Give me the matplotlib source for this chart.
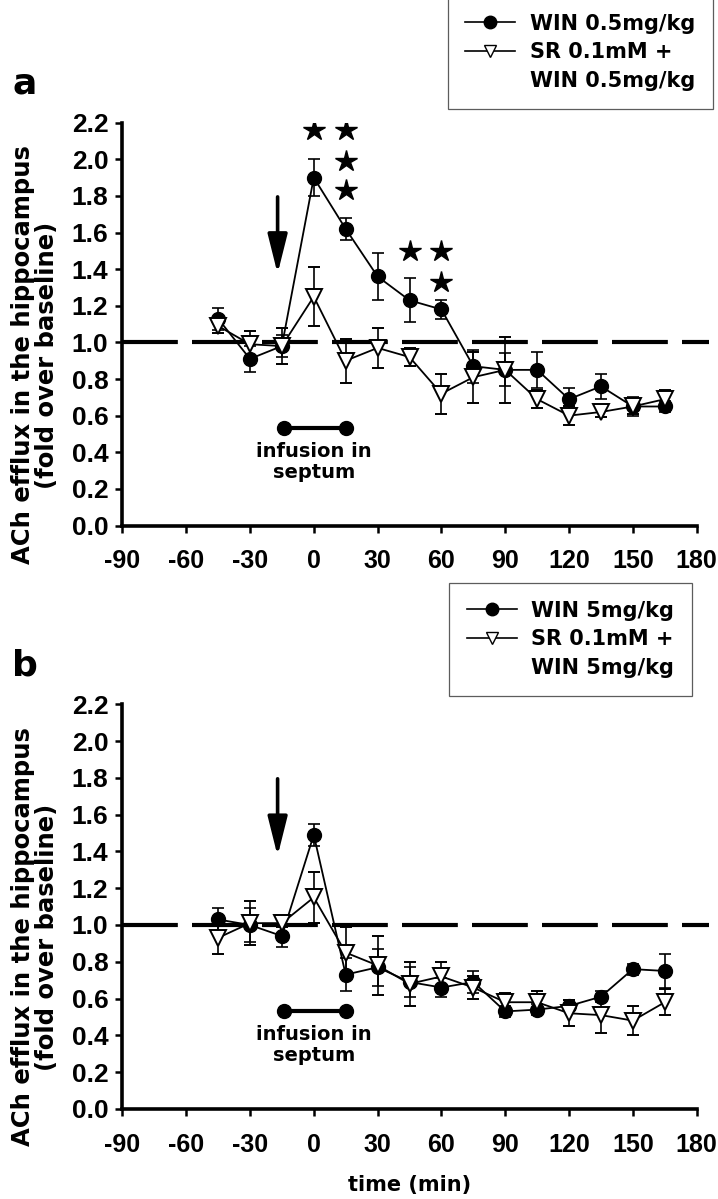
import matplotlib
matplotlib.use("Agg")
import matplotlib.pyplot as plt
from matplotlib.lines import Line2D

# sampling times (min)
time = [-45, -30, -15, 0, 15, 30, 45, 60, 75, 90, 105, 120, 135, 150, 165]

# panel a: WIN 0.5 mg/kg
a_win = [1.13, 0.91, 0.98, 1.90, 1.62, 1.36, 1.23, 1.18, 0.87, 0.85, 0.85, 0.69, 0.76, 0.65, 0.65]
a_win_err = [0.06, 0.07, 0.06, 0.10, 0.06, 0.13, 0.12, 0.05, 0.09, 0.09, 0.10, 0.06, 0.07, 0.05, 0.03]
a_sr = [1.09, 0.99, 0.98, 1.25, 0.90, 0.97, 0.92, 0.72, 0.81, 0.85, 0.69, 0.60, 0.62, 0.65, 0.69]
a_sr_err = [0.04, 0.07, 0.10, 0.16, 0.12, 0.11, 0.05, 0.11, 0.14, 0.18, 0.05, 0.05, 0.03, 0.04, 0.05]
a_star_x = [0, 15, 15, 15, 45, 60, 60]
a_star_y = [2.16, 2.16, 1.99, 1.83, 1.50, 1.50, 1.33]

# panel b: WIN 5 mg/kg
b_win = [1.03, 1.00, 0.94, 1.49, 0.73, 0.77, 0.69, 0.66, 0.69, 0.53, 0.54, 0.56, 0.61, 0.76, 0.75]
b_win_err = [0.06, 0.09, 0.06, 0.06, 0.09, 0.10, 0.08, 0.05, 0.06, 0.03, 0.03, 0.03, 0.03, 0.03, 0.09]
b_sr = [0.93, 1.01, 1.01, 1.15, 0.85, 0.78, 0.68, 0.72, 0.66, 0.58, 0.58, 0.52, 0.51, 0.48, 0.58]
b_sr_err = [0.09, 0.12, 0.02, 0.14, 0.14, 0.16, 0.12, 0.08, 0.06, 0.05, 0.06, 0.07, 0.10, 0.08, 0.07]

x_ticks = [-90, -60, -30, 0, 30, 60, 90, 120, 150, 180]
y_ticks = [0.0, 0.2, 0.4, 0.6, 0.8, 1.0, 1.2, 1.4, 1.6, 1.8, 2.0, 2.2]

infusion = [-14, 15]
arrow_x = -17

W, H = 718, 1199
fig = plt.figure(figsize=(W / 100, H / 100), dpi=100)

TXT = {"family": "DejaVu Sans", "weight": "bold"}
TICK = {"family": "Liberation Sans", "weight": "bold"}


def draw_panel(ax, win, win_err, sr, sr_err, stars_x, stars_y, labels, legend_box):
    ax.set_xlim(-90, 180)
    ax.set_ylim(0, 2.2)
    for s in ["top", "right"]:
        ax.spines[s].set_visible(False)
    for s in ["left", "bottom"]:
        ax.spines[s].set_linewidth(2.6)
    ax.tick_params(length=5, width=1.8, direction="out")
    ax.tick_params(axis="x", pad=12)
    ax.tick_params(axis="y", pad=5)
    ax.set_xticks(x_ticks)
    ax.set_xticklabels([str(v) for v in x_ticks], fontsize=18, **TICK)
    ax.set_yticks(y_ticks)
    ax.set_yticklabels([f"{v:.1f}" for v in y_ticks], fontsize=19, **TICK)

    # baseline
    ax.plot([-90, 186], [1.0, 1.0], color="black", lw=3, dashes=(13.4, 3.4),
            dash_capstyle="butt", clip_on=False, zorder=1)

    ax.errorbar(time, win, yerr=win_err, color="black", lw=1.3, marker="o", ms=10,
                mfc="black", mec="black", ecolor="black", elinewidth=1.2,
                capsize=4, capthick=1.2, zorder=3)
    ax.errorbar(time, sr, yerr=sr_err, color="black", lw=1.3, marker="v", ms=11,
                mfc="white", mec="black", mew=1.4, ecolor="black", elinewidth=1.2,
                capsize=4, capthick=1.2, zorder=4)

    ax.plot(stars_x, stars_y, linestyle="none", marker="*", ms=16, color="black")

    # injection arrow and infusion bar
    ax.annotate("", xy=(arrow_x, 1.36), xytext=(arrow_x, 1.81),
                arrowprops=dict(arrowstyle="-|>,head_length=1.2,head_width=0.3",
                                lw=2.6, color="black", mutation_scale=20))
    ax.plot(infusion, [0.53, 0.53], color="black", lw=3, marker="o", ms=10)
    ax.text(0, 0.455, "infusion in\nseptum", ha="center", va="top",
            fontsize=14, linespacing=1.15, **TXT)

    handles = [
        Line2D([], [], color="black", lw=1.2, marker="o", ms=9, mfc="black"),
        Line2D([], [], color="black", lw=1.2, marker="v", ms=9, mfc="white"),
        Line2D([], [], linestyle="none"),
    ]
    leg = fig.legend(handles, labels, loc="upper right",
                     bbox_to_anchor=legend_box, bbox_transform=fig.transFigure,
                     prop={"family": "DejaVu Sans", "weight": "bold", "size": 15},
                     frameon=True, fancybox=False, edgecolor="#333333",
                     handlelength=2.4, handletextpad=0.7, labelspacing=0.42,
                     borderpad=0.85, borderaxespad=0)
    leg.get_frame().set_linewidth(0.9)


ax_a = fig.add_axes([122.3 / W, 1 - 525.5 / H, 574.4 / W, 402.8 / H])
ax_b = fig.add_axes([122.3 / W, 1 - 1108.9 / H, 574.4 / W, 404.6 / H])

draw_panel(ax_a, a_win, a_win_err, a_sr, a_sr_err, a_star_x, a_star_y,
           ["WIN 0.5mg/kg", "SR 0.1mM +", "WIN 0.5mg/kg"],
           (713 / W, 1 + 4 / H))
draw_panel(ax_b, b_win, b_win_err, b_sr, b_sr_err, [], [],
           ["WIN 5mg/kg", "SR 0.1mM +", "WIN 5mg/kg"],
           (692 / W, 1 - 583 / H))

ylab = "ACh efflux in the hippocampus\n(fold over baseline)"
fig.text(35 / W, 1 - 355 / H, ylab, rotation=90, ha="center", va="center",
         multialignment="center", fontsize=17.5, linespacing=0.95, **TXT)
fig.text(35 / W, 1 - 937 / H, ylab, rotation=90, ha="center", va="center",
         multialignment="center", fontsize=17.5, linespacing=0.95, **TXT)

fig.text(12 / W, 1 - 93 / H, "a", fontsize=26, va="baseline", **TXT)
fig.text(12 / W, 1 - 675 / H, "b", fontsize=26, va="baseline", **TXT)

fig.text(409.5 / W, 1 - 1185 / H, "time (min)", ha="center", va="center",
         fontsize=15, **TXT)

fig.savefig("out.png", dpi=100)
